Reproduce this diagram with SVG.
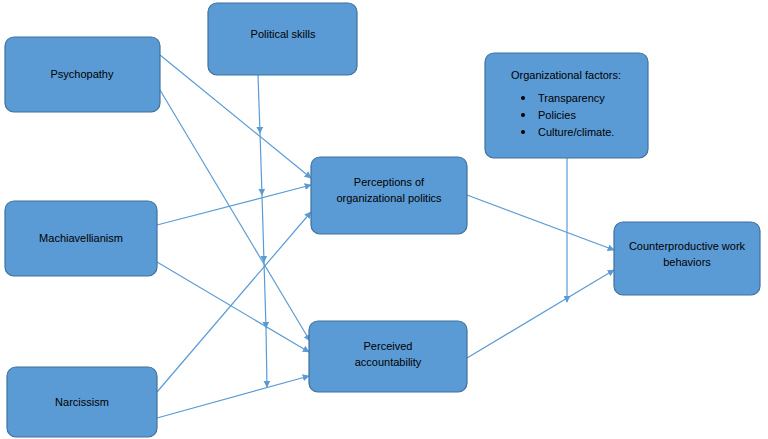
<svg xmlns="http://www.w3.org/2000/svg" width="768" height="439" viewBox="0 0 768 439">
<style>
.box{fill:#5b9bd5;stroke:#41719c;stroke-width:1.2}
.t{font-family:"Liberation Sans",Arial,sans-serif;font-size:11px;fill:#000;text-anchor:middle}
.c{stroke:#5b9bd5;stroke-width:1.2;fill:none;marker-end:url(#a)}
</style>
<defs>
<marker id="a" viewBox="0 0 10 10" refX="9" refY="5" markerWidth="7" markerHeight="7" orient="auto" markerUnits="userSpaceOnUse"><path d="M0,0 L10,5 L0,10 z" fill="#5b9bd5"/></marker>
</defs>
<rect width="768" height="439" fill="#fff"/>
<g id="connectors">
<line class="c" x1="160" y1="55" x2="311" y2="178"/>
<line class="c" x1="160" y1="90" x2="310" y2="341"/>
<line class="c" x1="157" y1="225" x2="311" y2="185"/>
<line class="c" x1="157" y1="262" x2="309" y2="352"/>
<line class="c" x1="157" y1="392" x2="311" y2="212"/>
<line class="c" x1="157" y1="418" x2="309" y2="376"/>
<polyline class="c" points="258,75 260,133 262,195 264,262 266,328 267,387" style="marker-mid:url(#a)"/>
<line class="c" x1="467" y1="195" x2="614" y2="250"/>
<line class="c" x1="467" y1="358" x2="614" y2="270"/>
<line class="c" x1="567" y1="158" x2="567" y2="302"/>
</g>
<g id="psychopathy"><rect class="box" x="5" y="37" width="155" height="75" rx="9"/><text class="t" x="82" y="78">Psychopathy</text></g>
<g id="political"><rect class="box" x="208" y="3" width="149" height="72" rx="9"/><text class="t" x="283" y="38">Political skills</text></g>
<g id="mach"><rect class="box" x="5" y="201" width="152" height="75" rx="9"/><text class="t" x="81" y="242">Machiavellianism</text></g>
<g id="narc"><rect class="box" x="7" y="367" width="150" height="70" rx="9"/><text class="t" x="82" y="406">Narcissism</text></g>
<g id="perceptions"><rect class="box" x="311" y="157" width="156" height="77" rx="9"/><text class="t" x="389" y="186">Perceptions of</text><text class="t" x="389" y="202">organizational politics</text></g>
<g id="accountability"><rect class="box" x="309" y="321" width="158" height="71" rx="9"/><text class="t" x="388" y="350">Perceived</text><text class="t" x="388" y="366">accountability</text></g>
<g id="orgfactors"><rect class="box" x="485" y="53" width="163" height="105" rx="9"/><text class="t" x="566" y="79">Organizational factors:</text>
<g style="font-family:'Liberation Sans',Arial,sans-serif;font-size:11px"><circle cx="523" cy="98" r="2"/><text x="538" y="102">Transparency</text><circle cx="523" cy="115" r="2"/><text x="538" y="119">Policies</text><circle cx="523" cy="132" r="2"/><text x="538" y="136">Culture/climate.</text></g></g>
<g id="cwb"><rect class="box" x="614" y="222" width="146" height="73" rx="9"/><text class="t" x="687" y="250">Counterproductive work</text><text class="t" x="687" y="266">behaviors</text></g>
</svg>
